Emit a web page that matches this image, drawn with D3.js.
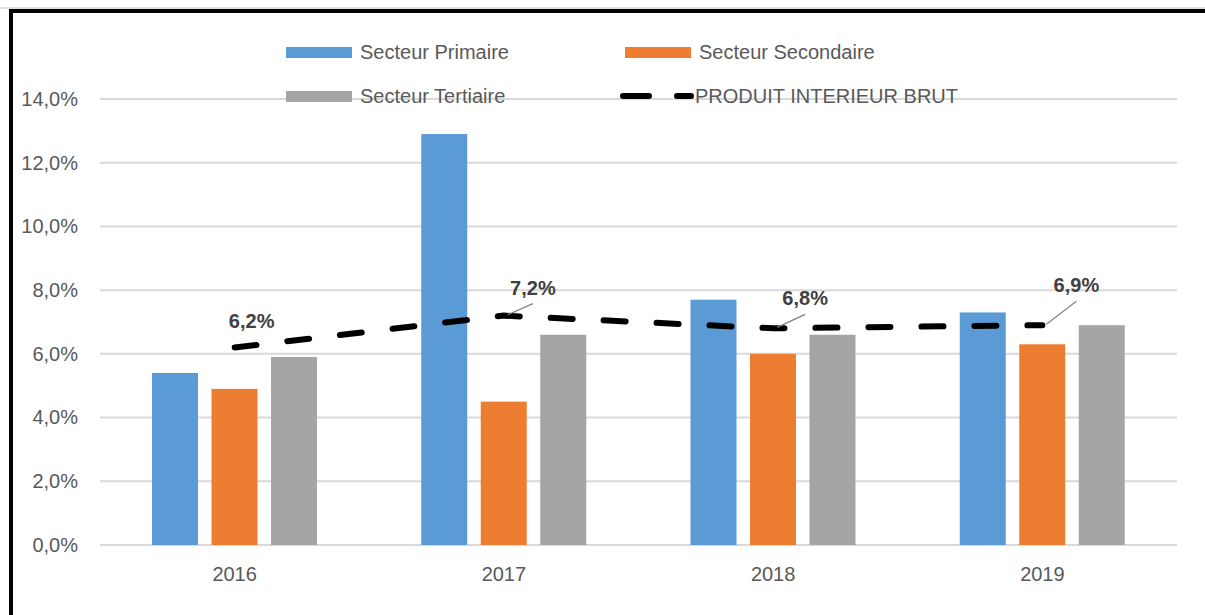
<!DOCTYPE html>
<html lang="fr">
<head>
    <meta charset="UTF-8">
    <title>Croissance par secteur</title>
    <script src="https://d3js.org/d3.v7.min.js"></script>
    <style>
        body { margin: 0; background: #fff; }
        text { font-family: "Liberation Sans", Arial, sans-serif; }
    </style>
</head>
<body>
<svg width="1205" height="615" class="chart"></svg>

<script>
    // data
    var years = ["2016", "2017", "2018", "2019"];
    var series = ["Secteur Primaire", "Secteur Secondaire", "Secteur Tertiaire"];
    var primaire = [5.4, 12.9, 7.7, 7.3];
    var secondaire = [4.9, 4.5, 6.0, 6.3];
    var tertiaire = [5.9, 6.6, 6.6, 6.9];
    var pib = [6.2, 7.2, 6.8, 6.9];
    var pibName = "PRODUIT INTERIEUR BRUT";
    var yTicks = [0, 2, 4, 6, 8, 10, 12, 14];

    var colors = ["#5B9BD5", "#ED7D31", "#A5A5A5"];
    var values = [primaire, secondaire, tertiaire];

    var svg = d3.select("svg.chart");

    // frame (left + top black border)
    svg.append("line").attr("x1", 0).attr("x2", 1205).attr("y1", 8).attr("y2", 8)
        .attr("stroke", "#bdbdbd").attr("stroke-width", 1);
    svg.append("path")
        .attr("d", "M11,615 L11,11 L1205,11")
        .attr("fill", "none")
        .attr("stroke", "#000")
        .attr("stroke-width", 4);

    var plotLeft = 100, plotRight = 1177, plotTop = 99, plotBottom = 545;

    var x0 = d3.scaleBand().domain(years).range([plotLeft, plotRight]).padding(0);
    var x1 = d3.scaleBand().domain(series).range([52, 217]).paddingInner(0.227).paddingOuter(0);
    var y = d3.scaleLinear().domain([0, 14]).range([plotBottom, plotTop]);

    // gridlines
    svg.append("g")
        .selectAll("line")
        .data(yTicks)
        .enter().append("line")
        .attr("x1", plotLeft).attr("x2", plotRight)
        .attr("y1", function (d) { return y(d); })
        .attr("y2", function (d) { return y(d); })
        .attr("stroke", "#D9D9D9")
        .attr("stroke-width", 2);

    // y axis labels
    var yAxis = svg.append("g")
        .attr("transform", "translate(" + (plotLeft - 22) + ",0)")
        .call(d3.axisLeft(y).tickValues(yTicks).tickSize(0).tickPadding(0)
            .tickFormat(function (d) { return d.toFixed(1).replace(".", ",") + "%"; }));
    yAxis.select(".domain").remove();
    yAxis.selectAll("text")
        .attr("fill", "#595959")
        .attr("font-size", "20px")
        .attr("font-family", "Liberation Sans, Arial, sans-serif");

    // x axis labels
    var xAxis = svg.append("g")
        .attr("transform", "translate(0," + (plotBottom + 22) + ")")
        .call(d3.axisBottom(x0).tickSize(0).tickPadding(0));
    xAxis.select(".domain").remove();
    xAxis.selectAll("text")
        .attr("fill", "#595959")
        .attr("font-size", "20px")
        .attr("font-family", "Liberation Sans, Arial, sans-serif");

    // bars
    var groups = svg.append("g")
        .selectAll("g")
        .data(years)
        .enter().append("g")
        .attr("transform", function (d) { return "translate(" + x0(d) + ",0)"; });

    groups.selectAll("rect")
        .data(function (d, i) {
            return series.map(function (s, j) { return { key: s, value: values[j][i], color: colors[j] }; });
        })
        .enter().append("rect")
        .attr("x", function (d) { return x1(d.key); })
        .attr("y", function (d) { return y(d.value); })
        .attr("width", x1.bandwidth())
        .attr("height", function (d) { return plotBottom - y(d.value); })
        .attr("fill", function (d) { return d.color; });

    // PIB dashed line
    var cx = function (d, i) { return x0(years[i]) + x0.bandwidth() / 2; };
    var line = d3.line()
        .x(function (d, i) { return cx(d, i); })
        .y(function (d) { return y(d); });

    svg.append("path")
        .datum(pib)
        .attr("d", line)
        .attr("fill", "none")
        .attr("stroke", "#000")
        .attr("stroke-width", 6)
        .attr("stroke-linecap", "round")
        .attr("stroke-dasharray", "22 31");

    // data labels (offset from the point)
    var labelOffsets = [[17, -26], [29, -28], [32, -30], [34, -40]];
    var leaders = [false, true, true, true];

    pib.forEach(function (v, i) {
        var px = cx(v, i), py = y(v);
        var lx = px + labelOffsets[i][0], ly = py + labelOffsets[i][1];
        if (leaders[i]) {
            svg.append("line")
                .attr("x1", lx).attr("y1", ly + 16)
                .attr("x2", px + 4).attr("y2", py - 1)
                .attr("stroke", "#808080")
                .attr("stroke-width", 1.2);
        }
        svg.append("text")
            .attr("x", lx)
            .attr("y", ly)
            .attr("dy", "0.35em")
            .attr("text-anchor", "middle")
            .attr("font-size", "20px")
            .attr("font-weight", "bold")
            .attr("fill", "#404040")
            .text(v.toFixed(1).replace(".", ",") + "%");
    });

    // legend
    var legendItems = [
        { name: series[0], color: colors[0], sx: 286, tx: 360, ty: 52 },
        { name: series[1], color: colors[1], sx: 625, tx: 699, ty: 52 },
        { name: series[2], color: colors[2], sx: 286, tx: 360, ty: 96 }
    ];
    var legend = svg.append("g");
    legendItems.forEach(function (d) {
        legend.append("rect")
            .attr("x", d.sx).attr("y", d.ty - 5)
            .attr("width", 66).attr("height", 11)
            .attr("fill", d.color);
        legend.append("text")
            .attr("x", d.tx).attr("y", d.ty)
            .attr("dy", "0.35em")
            .attr("font-size", "20px")
            .attr("fill", "#595959")
            .text(d.name);
    });
    legend.append("line")
        .attr("x1", 623).attr("x2", 691)
        .attr("y1", 96).attr("y2", 96)
        .attr("stroke", "#000")
        .attr("stroke-width", 6)
        .attr("stroke-linecap", "round")
        .attr("stroke-dasharray", "26 28");
    legend.append("text")
        .attr("x", 695).attr("y", 96)
        .attr("dy", "0.35em")
        .attr("font-size", "20px")
        .attr("fill", "#595959")
        .text(pibName);
</script>
</body>
</html>
